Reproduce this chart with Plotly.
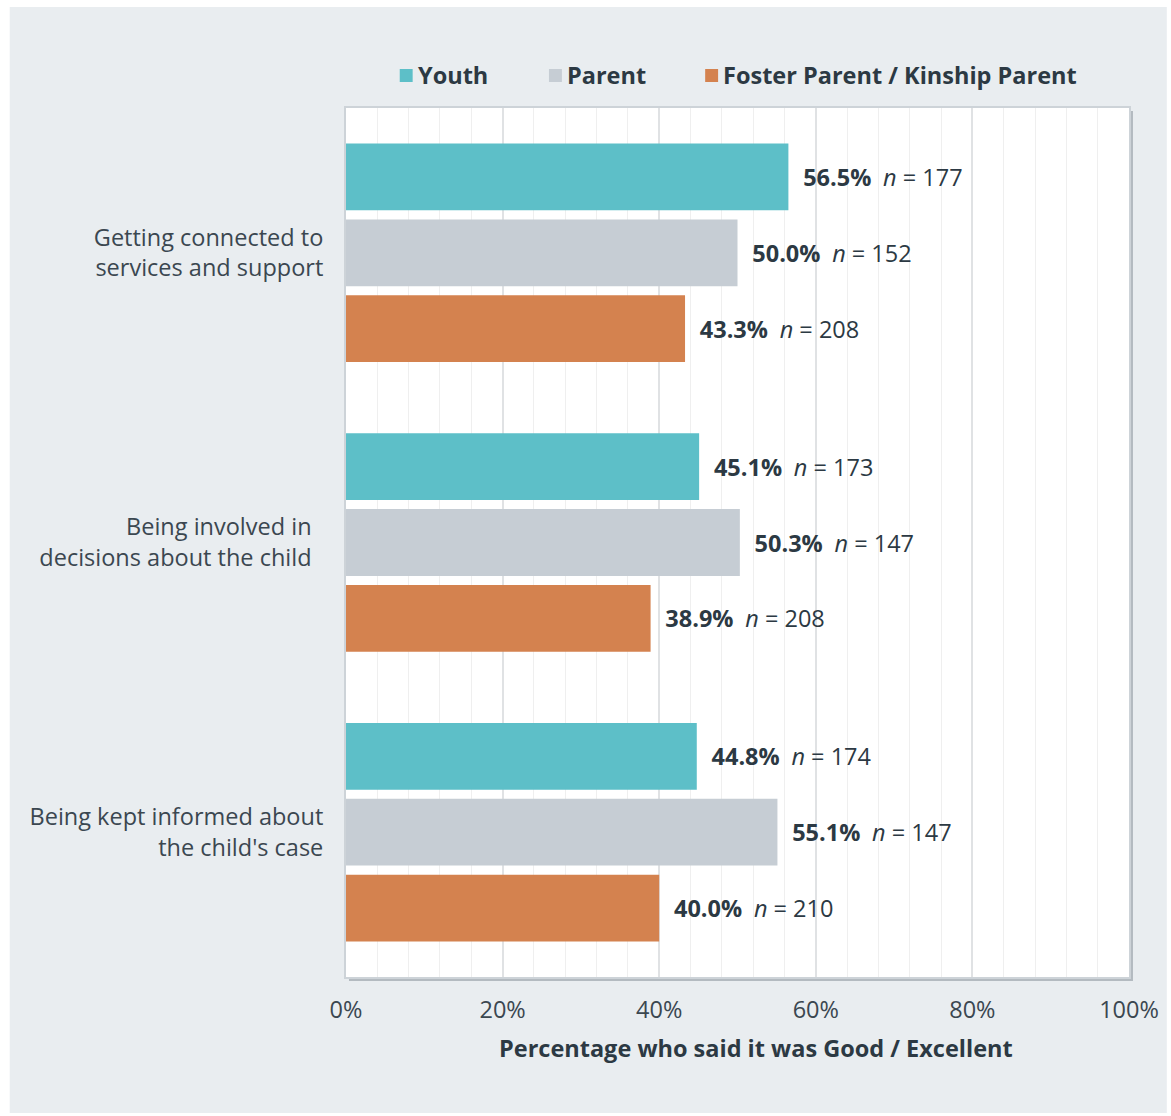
import plotly.graph_objects as go

categories = ["Getting connected to<br>services and support",
              "Being involved in<br>decisions about the child",
              "Being kept informed about<br>the child's case"]
series_names = ["Youth", "Parent", "Foster Parent / Kinship Parent"]
youth = [56.5, 45.1, 44.8]
youth_n = [177, 173, 174]
parent = [50.0, 50.3, 55.1]
parent_n = [152, 147, 147]
foster = [43.3, 38.9, 40.0]
foster_n = [208, 208, 210]
x_ticks = [0, 20, 40, 60, 80, 100]
x_ticktext = ["0%", "20%", "40%", "60%", "80%", "100%"]
x_title = "Percentage who said it was Good / Excellent"

colors = ["#5dbfc8", "#c6cdd4", "#d4824f"]
FONT = "Open Sans, sans-serif"
TXT = "#2c3943"
FS = 23.5

W, H = 1171, 1116
ML, MR, MT, MB = 346, 38, 108, 139
PW, PH = W - ML - MR, H - MT - MB


def px_x(px):
    return (px - ML) / PW


def px_y(py):
    return (H - MB - py) / PH


fig = go.Figure()
for name, vals, ns, col in zip(series_names, [youth, parent, foster],
                               [youth_n, parent_n, foster_n], colors):
    fig.add_trace(go.Bar(
        y=categories, x=vals, name=name, orientation="h",
        marker=dict(color=col, line=dict(width=0)),
        text=[f"\u2002<b>{v:.1f}%</b>\u2002<i>n</i> = {n}" for v, n in zip(vals, ns)],
        textposition="outside",
        outsidetextfont=dict(family=FONT, size=FS, color=TXT),
        constraintext="none", cliponaxis=False,
        showlegend=False,
    ))

shapes = [
    dict(type="rect", xref="paper", yref="paper", x0=px_x(8), x1=px_x(1171),
         y0=px_y(7), y1=px_y(1113), fillcolor="#e9edf0", line=dict(width=0), layer="below"),
    dict(type="rect", xref="paper", yref="paper", x0=px_x(ML + 3), x1=px_x(ML + PW + 4),
         y0=px_y(MT + 3), y1=px_y(MT + PH + 4), fillcolor="#b3bac0", line=dict(width=0), layer="below"),
    dict(type="rect", xref="paper", yref="paper", x0=0, x1=1, y0=0, y1=1,
         fillcolor="white", line=dict(width=0), layer="below"),
]

annotations = []
legend_x = [400, 550, 707]
for name, col, lx in zip(series_names, colors, legend_x):
    shapes.append(dict(type="rect", xref="paper", yref="paper",
                       x0=px_x(lx), x1=px_x(lx + 13), y0=px_y(69), y1=px_y(82),
                       fillcolor=col, line=dict(width=0)))
    annotations.append(dict(xref="paper", yref="paper", x=px_x(lx + 16), y=px_y(75),
                            xanchor="left", yanchor="middle", showarrow=False,
                            text=f"<b>{name}</b>", font=dict(family=FONT, size=FS, color=TXT)))

annotations.append(dict(xref="paper", yref="paper", x=px_x(758), y=px_y(1048),
                        xanchor="center", yanchor="middle", showarrow=False,
                        text=f"<b>{x_title}</b>", font=dict(family=FONT, size=FS, color=TXT)))

y_ticktext = [categories[0], "Being involved in\u2002<br>decisions about the child\u2002", categories[2]]

fig.update_layout(
    width=W, height=H,
    margin=dict(l=ML, r=MR, t=MT, b=MB, pad=0),
    paper_bgcolor="white", plot_bgcolor="rgba(0,0,0,0)",
    barmode="group", bargap=0.214, bargroupgap=0.12,
    font=dict(family=FONT, size=FS, color=TXT),
    shapes=shapes, annotations=annotations,
    xaxis=dict(range=[0, 100], tickvals=x_ticks, ticktext=x_ticktext,
               showgrid=True, gridcolor="#e0e2e4", gridwidth=1.5,
               minor=dict(dtick=4, showgrid=True, gridcolor="#efefef", gridwidth=1),
               showline=True, linecolor="#cdd3d8", linewidth=2, mirror=True,
               zeroline=False, ticks="", ticklabelstandoff=11,
               tickfont=dict(family=FONT, size=FS, color="#3b4750"),
               fixedrange=True),
    yaxis=dict(autorange="reversed", showgrid=False, showline=True, linecolor="#cdd3d8",
               linewidth=2, mirror=True, ticks="", ticklabelstandoff=16,
               tickvals=categories, ticktext=y_ticktext,
               tickfont=dict(family=FONT, size=FS, color="#3b4750")),
)

fig.write_html("out.html")
